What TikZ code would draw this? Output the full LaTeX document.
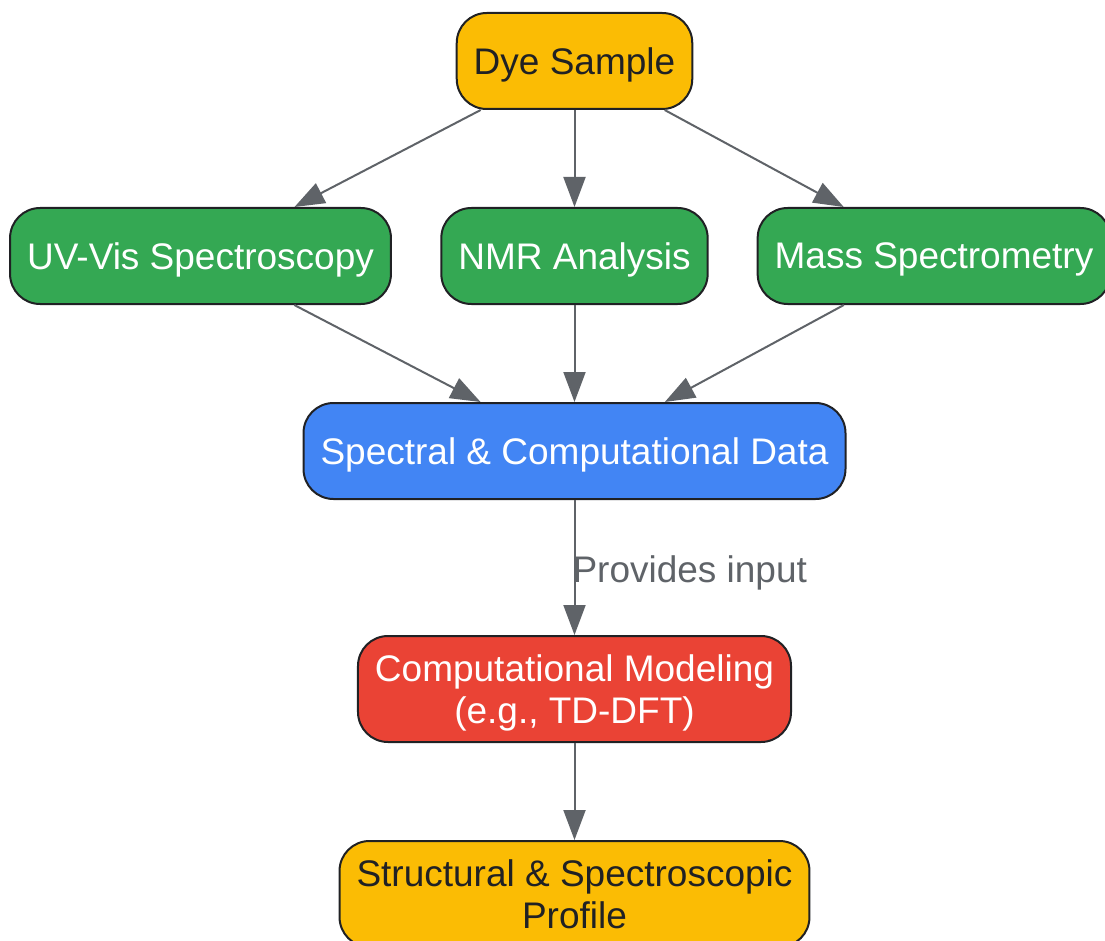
\documentclass[tikz,border=0pt]{standalone}
\usepackage{fontspec}
\setmainfont{Liberation Sans}
\usetikzlibrary{arrows.meta}

\definecolor{sampleyellow}{HTML}{FBBC04}
\definecolor{methodgreen}{HTML}{34A853}
\definecolor{datablue}{HTML}{4285F4}
\definecolor{modelred}{HTML}{EA4335}
\definecolor{boxline}{HTML}{202124}
\definecolor{darktext}{HTML}{202124}
\definecolor{flowgray}{HTML}{5F6368}

\begin{document}
\begin{tikzpicture}[x=1pt,y=-1pt,
    box/.style={rectangle, draw=boxline, line width=2pt, rounded corners=30pt,
                minimum height=96pt, inner xsep=17pt, text depth=0pt, align=center,
                font=\fontsize{37}{42}\selectfont},
    flow/.style={draw=flowgray, line width=2pt,
                 -{Triangle[length=30pt,width=22pt]}}]
      \useasboundingbox (0,0) rectangle (1105,941);

      \node at (574.5,61)  [box, fill=sampleyellow, text=darktext] (dye)   {Dye Sample};

      \node at (200.5,256) [box, fill=methodgreen, text=white] (uvvis) {UV-Vis Spectroscopy};
      \node at (574.5,256) [box, fill=methodgreen, text=white] (nmr)   {NMR Analysis};
      \node at (934,256)   [box, fill=methodgreen, text=white] (mass)  {Mass Spectrometry};
      \draw[flow] (dye)--(uvvis);
      \draw[flow] (dye)--(nmr);
      \draw[flow] (dye)--(mass);

      \node at (574.5,451) [box, fill=datablue, text=white] (data) {Spectral \& Computational Data};
      \draw[flow] (uvvis)--(data);
      \draw[flow] (nmr)  --(data);
      \draw[flow] (mass) --(data);

      \node at (574.5,689) [box, fill=modelred, text=white, minimum height=106pt] (model) {Computational Modeling\\(e.g., TD-DFT)};
      \draw[flow] (data)--node[anchor=west, inner sep=0pt, xshift=-3pt, yshift=-5pt, text=flowgray,
                              font=\fontsize{37}{42}\selectfont] (provides) {Provides input} (model);

      \node at (574.5,894) [box, fill=sampleyellow, text=darktext, minimum height=106pt] (profile) {Structural \& Spectroscopic\\Profile};
      \draw[flow] (model)--(profile);
\end{tikzpicture}
\end{document}
